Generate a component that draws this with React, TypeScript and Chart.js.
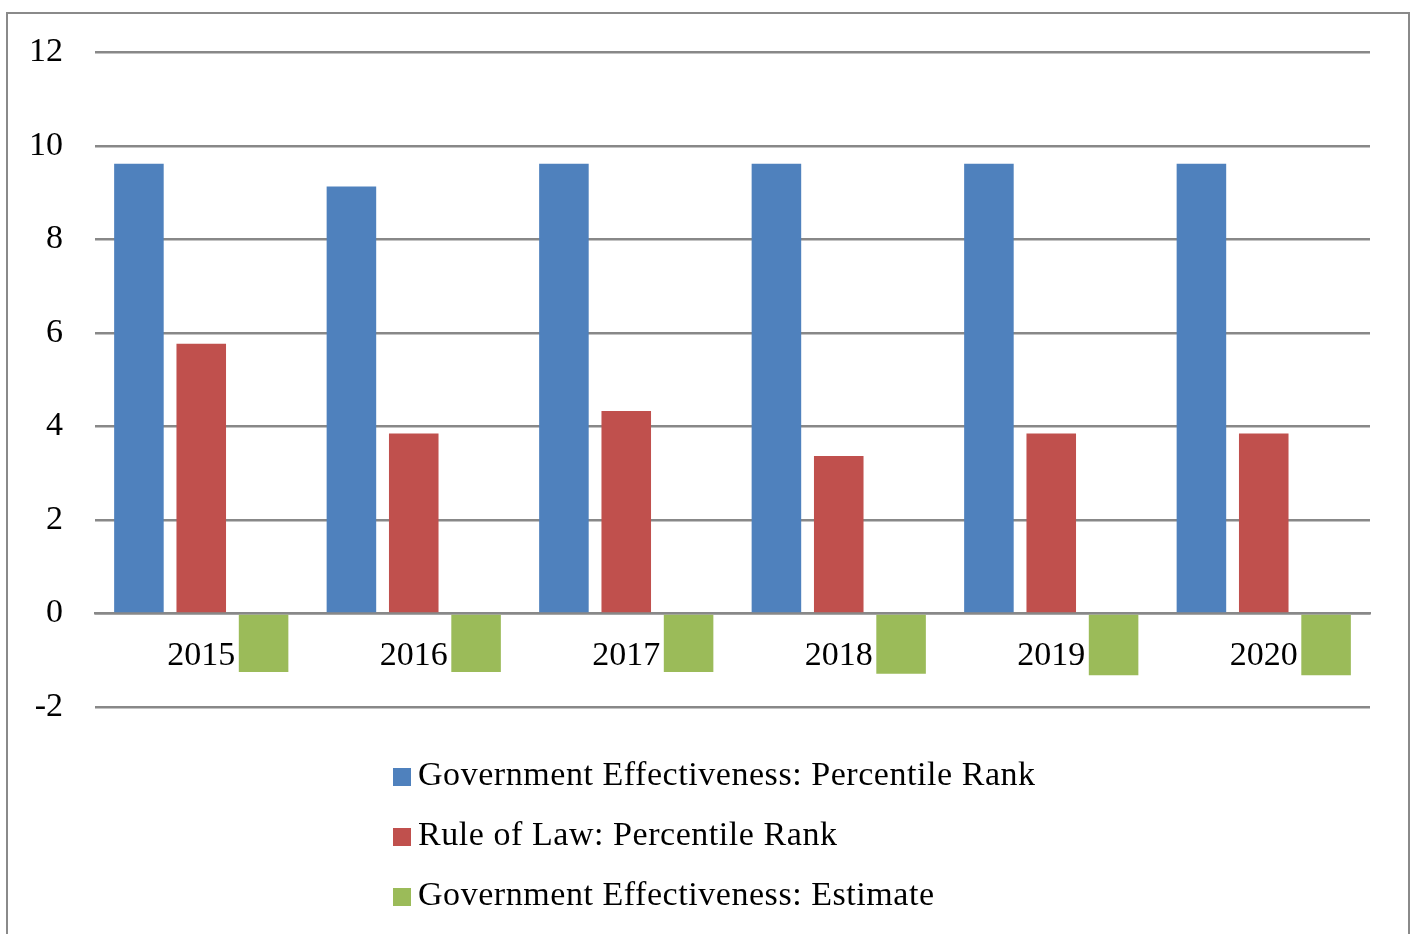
import React, { useEffect, useRef } from "react";
import { Chart, registerables } from "chart.js";

Chart.register(...registerables);

const years = ["2015", "2016", "2017", "2018", "2019", "2020"];
const govEffRank = [9.62, 9.13, 9.62, 9.62, 9.62, 9.62];
const ruleOfLawRank = [5.77, 3.85, 4.33, 3.37, 3.85, 3.85];
const govEffEstimate = [-1.25, -1.25, -1.25, -1.29, -1.32, -1.32];

const seriesNames = [
  "Government Effectiveness: Percentile Rank",
  "Rule of Law: Percentile Rank",
  "Government Effectiveness: Estimate",
];
const seriesColors = ["#4F81BD", "#C0504D", "#9BBB59"];

const yMin = -2;
const yMax = 12;
const yStep = 2;

const FONT = "'Liberation Serif', 'Times New Roman', serif";
const GRID = "#888888";

export default function App() {
  const canvasRef = useRef<HTMLCanvasElement | null>(null);

  useEffect(() => {
    const canvas = canvasRef.current;
    if (!canvas) return;
    const chart = new Chart(canvas, {
      type: "bar",
      data: {
        labels: years,
        datasets: [govEffRank, ruleOfLawRank, govEffEstimate].map((d, i) => ({
          label: seriesNames[i],
          data: d,
          backgroundColor: seriesColors[i],
          borderWidth: 0,
          categoryPercentage: 0.88,
          barPercentage: 0.795,
        })),
      },
      options: {
        animation: false,
        responsive: false,
        maintainAspectRatio: false,
        devicePixelRatio: 1,
        layout: { padding: { left: 0, top: 50, right: 43, bottom: 227 } },
        plugins: {
          legend: { display: false },
          tooltip: { enabled: false },
        },
        scales: {
          x: {
            position: { y: 0 },
            z: 1,
            grid: { display: false, drawTicks: false },
            border: { display: true, color: GRID, width: 2.5 },
            ticks: {
              color: "#000",
              font: { family: FONT, size: 34 },
              padding: 22,
              maxRotation: 0,
              autoSkip: false,
            },
            afterFit: (scale: any) => {
              scale.height = 0;
            },
          },
          y: {
            min: yMin,
            max: yMax,
            grid: { color: GRID, lineWidth: 2.5, drawTicks: false },
            border: { display: false },
            ticks: {
              stepSize: yStep,
              color: "#000",
              font: { family: FONT, size: 34 },
              padding: 32,
            },
            afterFit: (scale: any) => {
              scale.width = 95;
            },
          },
        },
      },
    });
    return () => chart.destroy();
  }, []);

  const rowTops = [753.5, 813.5, 873.5];

  return (
    <div style={{ position: "fixed", left: 0, top: 0, width: 1413, height: 934, overflow: "hidden", background: "#fff" }}>
      <canvas ref={canvasRef} width={1413} height={934} style={{ position: "absolute", left: 0, top: 0, width: 1413, height: 934 }} />
      <div
        style={{
          position: "absolute",
          left: 6,
          top: 12,
          width: 1404,
          height: 930,
          boxSizing: "border-box",
          border: "2.5px solid #8a8a8a",
          borderBottom: "none",
          pointerEvents: "none",
        }}
      />
      {seriesNames.map((name, i) => (
        <div key={name} style={{ position: "absolute", left: 393, top: rowTops[i], height: 40 }}>
          <div style={{ position: "absolute", left: 0, top: 14.5, width: 18, height: 18, background: seriesColors[i] }} />
          <div
            style={{
              position: "absolute",
              left: 25,
              top: 0,
              whiteSpace: "nowrap",
              fontFamily: FONT,
              fontSize: 34,
              lineHeight: "40px",
              letterSpacing: "0.55px",
              color: "#000",
            }}
          >
            {name}
          </div>
        </div>
      ))}
    </div>
  );
}
